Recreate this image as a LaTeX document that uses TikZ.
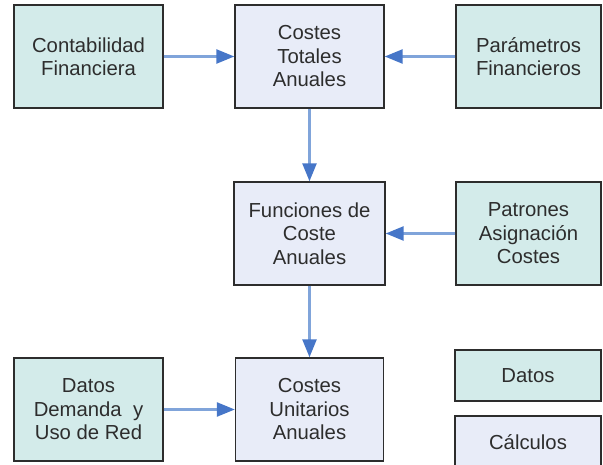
\documentclass[tikz,border=0pt]{standalone}
\usepackage{fontspec}
\setmainfont{Liberation Sans}
\usetikzlibrary{arrows.meta}
\definecolor{datafill}{RGB}{211,235,234}
\definecolor{calcfill}{RGB}{232,236,248}
\definecolor{edge}{RGB}{45,45,45}
\definecolor{arrline}{RGB}{128,164,218}
\definecolor{arrhead}{RGB}{70,118,200}
\definecolor{txt}{RGB}{45,45,45}
\begin{document}
\begin{tikzpicture}[x=1pt,y=-1pt,
  box/.style={draw=edge,line width=1.4pt,align=center,text=txt,
    font=\fontsize{20.3}{23.5}\selectfont,inner sep=0pt,minimum height=103pt},
  databox/.style={box,fill=datafill},
  calcbox/.style={box,fill=calcfill},
  flow/.style={draw=arrline,line width=2.5pt,
    -{Triangle[length=18pt,width=14pt,color=arrhead]}}]
\useasboundingbox (0,0) rectangle (603,465);
\node[databox,minimum width=149pt] (cf) at (88.5,56.5) {Contabilidad\\Financiera};
\node[calcbox,minimum width=149pt] (ct) at (309.5,56.5) {Costes\\Totales\\Anuales};
\node[databox,minimum width=145pt] (pf) at (528.5,56.5) {Parámetros\\Financieros};
\node[calcbox,minimum width=151pt] (fc) at (309.5,233.5) {Funciones de\\Coste\\Anuales};
\node[databox,minimum width=145pt] (pa) at (528.5,233.5) {Patrones\\Asignación\\Costes};
\node[databox,minimum width=149pt] (dd) at (88.5,409.5) {Datos\\Demanda\ \ y\\Uso de Red};
\node[calcbox,minimum width=148pt] (cu) at (309.5,409.5) {Costes\\Unitarios\\Anuales};
\node[databox,minimum width=146pt,minimum height=51pt] (ld) at (528,375.5) {Datos};
\node[calcbox,minimum width=146pt,minimum height=56pt,text depth=0pt] (lc) at (528,444) {\raisebox{4pt}{Cálculos}};
\draw[flow] (cf) -- (ct);
\draw[flow] (pf) -- (ct);
\draw[flow] (ct) -- (fc);
\draw[flow] (pa) -- (fc);
\draw[flow] (fc) -- (cu);
\draw[flow] (dd) -- (cu);
\end{tikzpicture}
\end{document}
